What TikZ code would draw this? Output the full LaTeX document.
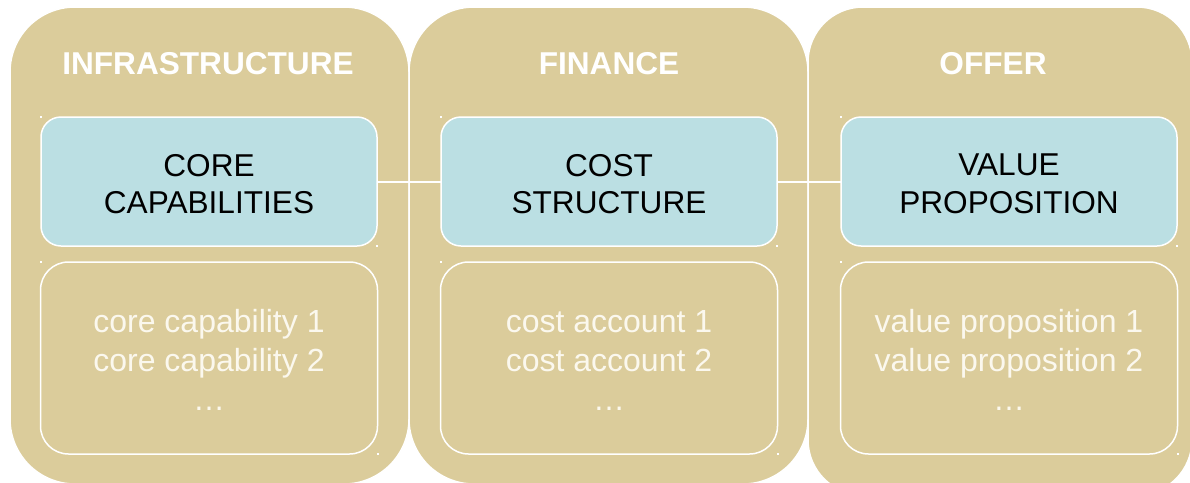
\documentclass[tikz,border=0pt]{standalone}
\usepackage{fontspec}
\setmainfont{Liberation Sans}
\definecolor{sand}{RGB}{219,204,155}
\definecolor{paleblue}{RGB}{187,223,227}
\definecolor{lighttext}{RGB}{251,248,238}
\tikzset{
  column/.style={draw=white, line width=1.5pt, fill=sand, rectangle,
    rounded corners=65pt, inner sep=0pt, outer sep=0pt},
  header/.style={text=white, font=\bfseries\fontsize{31.6}{37}\selectfont,
    anchor=base, inner sep=0pt},
  keybox/.style={draw=white, line width=1.5pt, fill=paleblue, rectangle,
    rounded corners=20pt, minimum width=336pt, minimum height=129pt,
    inner sep=0pt, outer sep=0pt},
  keytext/.style={inner sep=0pt, align=center, text=black,
    font=\fontsize{31.6}{37.5}\selectfont},
  listbox/.style={draw=white, line width=1.5pt, rectangle,
    rounded corners=28pt, minimum width=337pt, minimum height=192pt,
    inner sep=0pt, outer sep=0pt},
  listtext/.style={inner sep=0pt, align=center, text=lighttext,
    font=\fontsize{32}{39}\selectfont},
  link/.style={draw=white, line width=2pt},
  handle/.style={fill=white}
}
\begin{document}
\begin{tikzpicture}[x=1pt, y=-1pt]
  \useasboundingbox (0,0) rectangle (1190,482);

  % three sand-coloured columns
  \node[column, minimum width=399pt, minimum height=477pt] (colA) at (209.5,245.5) {};
  \node[column, minimum width=399pt, minimum height=477pt] (colB) at (608.5,245.5) {};
  \node[column, minimum width=384pt, minimum height=488pt, rounded corners=55pt] (colC) at (1000,251) {};

  % column headings
  \node[header] (hA) at (208,74) {INFRASTRUCTURE};
  \node[header] (hB) at (609,74) {FINANCE};
  \node[header] (hC) at (993,74) {OFFER};

  % key boxes and their titles
  \node[keybox] (core) at (209,181.5) {};
  \node[keybox] (cost) at (609,181.5) {};
  \node[keybox] (value) at (1009,181.5) {};
  \node[keytext] (coreT) at ([yshift=-2.5pt]core.center) {CORE\\CAPABILITIES};
  \node[keytext] (costT) at ([yshift=-2.5pt]cost.center) {COST\\STRUCTURE};
  \node[keytext] (valueT) at ([yshift=-2.5pt]value.center) {VALUE\\PROPOSITION};

  % list boxes and their items
  \node[listbox] (coreList) at (209,358) {};
  \node[listbox] (costList) at (609,358) {};
  \node[listbox] (valueList) at (1009,358) {};
  \node[listtext] (coreItems) at ([yshift=-2pt]coreList.center) {core capability 1\\core capability 2\\…};
  \node[listtext] (costItems) at ([yshift=-2pt]costList.center) {cost account 1\\cost account 2\\…};
  \node[listtext] (valueItems) at ([yshift=-2pt]valueList.center) {value proposition 1\\value proposition 2\\…};

  % links between the key boxes
  \draw[link] (core.east) -- (cost.west);
  \draw[link] (cost.east) -- (value.west);

  % small frame handles at the box corners
  \foreach \b in {core,cost,value,coreList,costList,valueList}{
    \fill[handle] (\b.north west) ++(-1,-0.8) rectangle ++(2.2,1.6);
    \fill[handle] (\b.south east) ++(-1,-0.8) rectangle ++(2.2,1.6);
  }
\end{tikzpicture}
\end{document}
